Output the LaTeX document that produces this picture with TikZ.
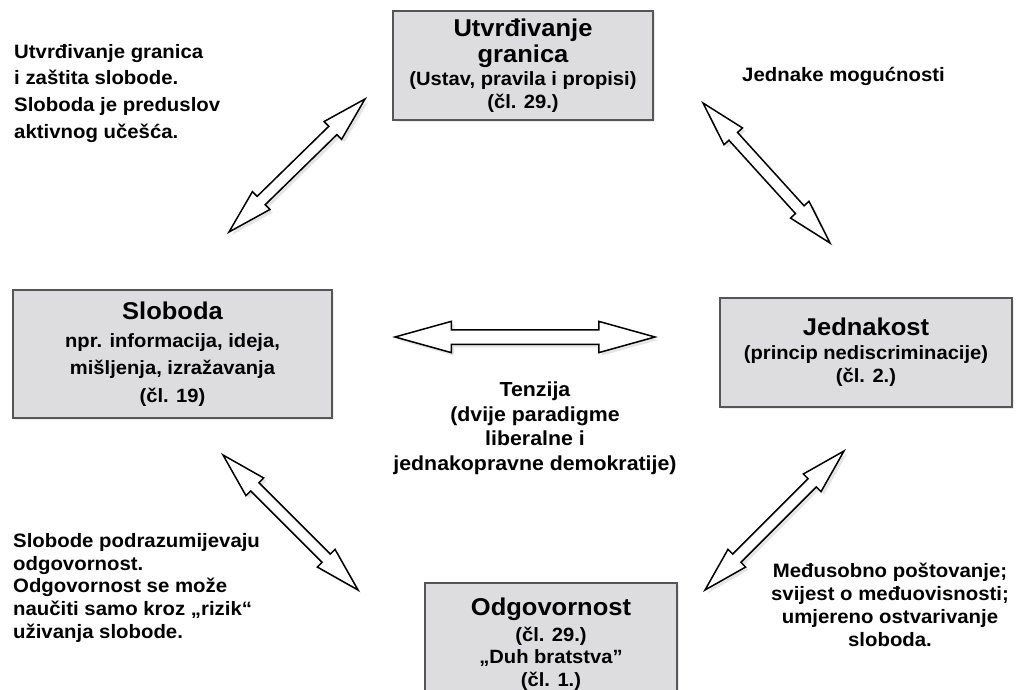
\documentclass[tikz,border=0pt]{standalone}
\usepackage{fontspec}
\setmainfont{Liberation Sans}[FakeStretch=1.05]
\usetikzlibrary{calc,positioning,shadows}

\newcommand{\boxtitle}{\fontsize{24.3}{25}\selectfont}
\newcommand{\twoway}[3][1]{%
    \pgfmathsetlengthmacro{\twhl}{#1*45pt}%
    \pgfmathsetlengthmacro{\twhw}{#1*12.5pt}%
    \pgfmathsetlengthmacro{\twsw}{#1*5.8pt}%
    \draw [twowayarrow] (#2)
        -- ($(#2)!\twhl!(#3)!\twhw!90:(#3)$)
        -- ($(#2)!\twhl!(#3)!\twsw!90:(#3)$)
        -- ($(#3)!\twhl!(#2)!\twsw!-90:(#2)$)
        -- ($(#3)!\twhl!(#2)!\twhw!-90:(#2)$)
        -- (#3)
        -- ($(#3)!\twhl!(#2)!\twhw!90:(#2)$)
        -- ($(#3)!\twhl!(#2)!\twsw!90:(#2)$)
        -- ($(#2)!\twhl!(#3)!\twsw!-90:(#3)$)
        -- ($(#2)!\twhl!(#3)!\twhw!-90:(#3)$)
        -- cycle;%
}

\begin{document}
\begin{tikzpicture}[
            x=1pt,y=-1pt,
            box/.style={draw=boxline,line width=1.3pt,fill=boxgray,align=center,inner sep=0pt,
                font=\fontsize{19.2}{22.5}\selectfont\bfseries,
                drop shadow={shadow xshift=2pt,shadow yshift=-2pt,opacity=.15}},
            note/.style={inner sep=0pt,font=\fontsize{19.4}{26.7}\selectfont\bfseries},
            twowayarrow/.style={draw=black,line width=1.5pt,fill=white,line join=miter,
                drop shadow={shadow xshift=3pt,shadow yshift=-3pt,opacity=.2}}
        ]
            \definecolor{boxgray}{RGB}{221,221,223}
            \definecolor{boxline}{RGB}{85,85,85}

            \path [use as bounding box,fill=white] (0,0) rectangle (1018,690);
            \clip (0,0) rectangle (1018,690);

            \node (grnc) [box,minimum width=260pt,minimum height=109pt] at (523,65.5)
                {{\boxtitle Utvrđivanje}\\[2.5pt]{\boxtitle granica}\\[1pt](Ustav, pravila i propisi)\\(čl. 29.)};
            \node (slob) [box,minimum width=319pt,minimum height=128pt,
                font=\fontsize{19.2}{27.5}\selectfont\bfseries] at (172.5,354)
                {{\boxtitle Sloboda}\\npr. informacija, ideja,\\mišljenja, izražavanja\\(čl. 19)};
            \node (jedn) [box,minimum width=292pt,minimum height=109pt,
                font=\fontsize{19.2}{23.5}\selectfont\bfseries] at (866,352.5)
                {{\boxtitle Jednakost}\\(princip nediscriminacije)\\(čl. 2.)};
            \node (odgv) [box,minimum width=252pt,minimum height=122pt] at (551,644)
                {{\boxtitle Odgovornost}\\[3pt](čl. 29.)\\„Duh bratstva”\\(čl. 1.)};

            \node (ntl) [note,anchor=north west,align=left] at (14,44)
                {Utvrđivanje granica\\i zaštita slobode.\\Sloboda je preduslov\\aktivnog učešća.};
            \node (ntr) [note,anchor=base west] at (742,82) {Jednake mogućnosti};
            \node (ncen) [note,anchor=north,align=center,font=\fontsize{20.3}{24.5}\selectfont\bfseries] at (535,382)
                {Tenzija\\(dvije paradigme\\liberalne i\\jednakopravne demokratije)};
            \node (nbl) [note,anchor=north west,align=left,font=\fontsize{19.4}{22.8}\selectfont\bfseries] at (13,533)
                {Slobode podrazumijevaju\\odgovornost.\\Odgovornost se može\\naučiti samo kroz „rizik“\\uživanja slobode.};
            \node (nbr) [note,anchor=north,align=center,font=\fontsize{19.4}{22.8}\selectfont\bfseries] at (890,563)
                {Međusobno poštovanje;\\svijest o međuovisnosti;\\umjereno ostvarivanje\\sloboda.};

            \coordinate (sg1) at (229,232);
            \coordinate (sg2) at (365,99);
            \coordinate (gj1) at (703,103);
            \coordinate (gj2) at (830,243);
            \coordinate (sj1) at (395,337);
            \coordinate (sj2) at (655,337);
            \coordinate (so1) at (223,455);
            \coordinate (so2) at (358,590);
            \coordinate (oj1) at (705,590);
            \coordinate (oj2) at (844,451);

            \twoway{sg1}{sg2}
            \twoway{gj1}{gj2}
            \twoway[1.25]{sj1}{sj2}
            \twoway{so1}{so2}
            \twoway{oj1}{oj2}
        \end{tikzpicture}
\end{document}
